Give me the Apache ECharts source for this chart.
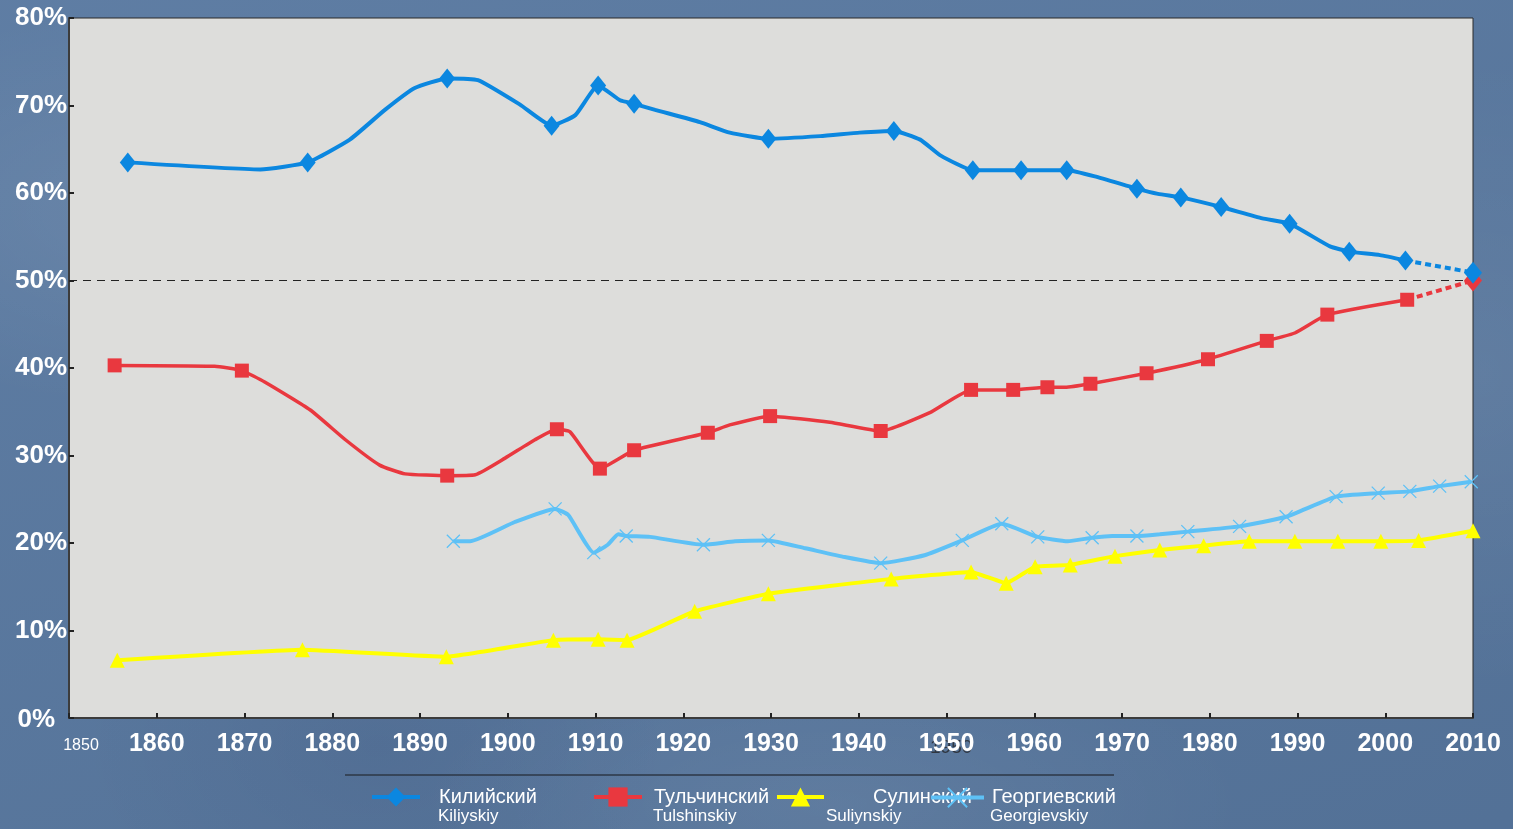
<!DOCTYPE html>
<html><head><meta charset="utf-8">
<script src="https://cdn.jsdelivr.net/npm/echarts@6/dist/echarts.min.js"></script>
<style>
html,body{margin:0;padding:0;width:1513px;height:829px;overflow:hidden;}
body{
  background-color:#5878a0;
  background-image:
    radial-gradient(ellipse 320px 200px at 8% 25%, rgba(255,255,255,0.07), rgba(255,255,255,0)),
    radial-gradient(ellipse 420px 160px at 55% 97%, rgba(255,255,255,0.06), rgba(255,255,255,0)),
    radial-gradient(ellipse 260px 320px at 98% 45%, rgba(255,255,255,0.06), rgba(255,255,255,0)),
    radial-gradient(ellipse 300px 200px at 25% 90%, rgba(0,0,40,0.06), rgba(0,0,0,0)),
    linear-gradient(160deg, rgba(255,255,255,0.04), rgba(0,0,0,0.06));
}
#c{width:1513px;height:829px;}
</style></head><body><div id="c"></div>
<script>
// ---- names ----
const namesRu  = ['Килийский', 'Тульчинский', 'Сулинский', 'Георгиевский'];
const namesLat = ['Kiliyskiy', 'Tulshinskiy', 'Suliynskiy', 'Georgievskiy'];

// ---- Килийский (Kiliyskiy) ----
const kiliYears  = [1856.7, 1871.8, 1877.2, 1882.0, 1886.0, 1889.4, 1893.1, 1896.6, 1901.4, 1905.0, 1907.7, 1910.3, 1912.8, 1914.4, 1916.8, 1921.9, 1925.3, 1929.7, 1935.6, 1940.1, 1944.0, 1947.0, 1949.3, 1953.0, 1958.5, 1963.7, 1966.9, 1971.7, 1974.1, 1976.7, 1981.3, 1986.0, 1989.1, 1993.7, 1995.9, 1999.4, 2002.3];
const kiliValues = [63.5, 62.7, 63.5, 66.1, 69.5, 72.0, 73.1, 72.9, 70.1, 67.7, 68.9, 72.3, 70.6, 70.2, 69.5, 68.1, 66.9, 66.2, 66.5, 66.9, 67.1, 66.1, 64.3, 62.6, 62.6, 62.6, 61.9, 60.5, 59.9, 59.5, 58.4, 57.1, 56.5, 53.9, 53.3, 52.9, 52.3];
const kiliMarks  = [1856.7, 1877.2, 1893.1, 1905.0, 1910.3, 1914.4, 1929.7, 1944.0, 1953.0, 1958.5, 1963.7, 1971.7, 1976.7, 1981.3, 1989.1, 1995.9, 2002.3];
const kiliProjYears  = [2002.3, 2010];
const kiliProjValues = [52.3, 50.9];

// ---- Тульчинский (Tulshinskiy) ----
const tulYears  = [1855.2, 1866.6, 1869.7, 1872.3, 1877.5, 1881.5, 1885.4, 1888.3, 1893.1, 1896.3, 1899.7, 1903.1, 1905.6, 1907.1, 1910.5, 1914.4, 1922.8, 1925.3, 1929.9, 1936.7, 1942.5, 1948.1, 1952.8, 1957.6, 1961.5, 1963.5, 1966.4, 1972.8, 1979.8, 1986.5, 1989.7, 1993.4, 2002.5];
const tulValues = [40.3, 40.2, 39.7, 38.4, 35.2, 31.8, 28.9, 27.9, 27.7, 27.8, 29.7, 31.8, 33.0, 32.7, 28.5, 30.6, 32.6, 33.5, 34.5, 33.8, 32.8, 34.9, 37.5, 37.5, 37.8, 37.8, 38.2, 39.4, 41.0, 43.1, 44.0, 46.1, 47.8];
const tulMarks  = [1855.2, 1869.7, 1893.1, 1905.6, 1910.5, 1914.4, 1922.8, 1929.9, 1942.5, 1952.8, 1957.6, 1961.5, 1966.4, 1972.8, 1979.8, 1986.5, 1993.4, 2002.5];
const tulProjYears  = [2002.5, 2010];
const tulProjValues = [47.8, 50.0];

// ---- Сулинский (Suliynskiy) ----
const sulYears  = [1855.5, 1876.6, 1893.0, 1905.2, 1910.3, 1913.6, 1921.3, 1929.7, 1943.7, 1952.8, 1956.8, 1960.1, 1964.1, 1969.2, 1974.3, 1979.3, 1984.5, 1989.7, 1994.6, 1999.5, 2003.8, 2010.0];
const sulValues = [6.6, 7.8, 7.0, 8.9, 9.0, 8.9, 12.2, 14.2, 15.9, 16.7, 15.4, 17.3, 17.5, 18.5, 19.2, 19.7, 20.2, 20.2, 20.2, 20.2, 20.3, 21.4];
const sulMarks  = sulYears.slice();

// ---- Георгиевский (Georgievskiy) ----
const geoYears  = [1893.8, 1895.7, 1900.8, 1905.4, 1906.9, 1909.8, 1911.4, 1912.6, 1913.5, 1916.2, 1922.3, 1925.9, 1929.7, 1933.9, 1938.4, 1942.5, 1947.5, 1951.8, 1956.3, 1960.4, 1963.8, 1966.6, 1968.9, 1971.7, 1974.3, 1977.5, 1983.4, 1988.7, 1994.4, 1999.2, 2002.8, 2006.2, 2009.8];
const geoValues = [20.2, 20.2, 22.4, 23.9, 23.2, 18.9, 19.8, 21.0, 20.8, 20.7, 19.8, 20.2, 20.3, 19.4, 18.4, 17.7, 18.6, 20.3, 22.2, 20.7, 20.2, 20.6, 20.8, 20.8, 21.0, 21.3, 21.9, 23.0, 25.3, 25.7, 25.9, 26.5, 27.0];
const geoMarks  = [1893.8, 1905.4, 1909.8, 1913.5, 1922.3, 1929.7, 1942.5, 1951.8, 1956.3, 1960.4, 1966.6, 1971.7, 1977.5, 1983.4, 1988.7, 1994.4, 1999.2, 2002.8, 2006.2, 2009.8];

// ---- axes ----
const xMin = 1850, xMax = 2010, xStep = 10;
const yMin = 0, yMax = 80, yStep = 10;
const refLine = 50;

const C_BLUE = '#0b87e0', C_RED = '#e9383f', C_YEL = '#ffff00', C_LBL = '#5ec1f6';
const FONT = '"Liberation Sans", Arial, sans-serif';

function build(years, values, marks) {
  return years.map((y, i) => {
    const item = { value: [y, values[i]] };
    if (marks.indexOf(y) < 0) item.symbol = 'none';
    return item;
  });
}
function projData(years, values) {
  return years.map((y, i) => i === 0 ? { value: [y, values[i]], symbol: 'none' } : { value: [y, values[i]] });
}

const chart = echarts.init(document.getElementById('c'));

function legendCfg(idx, left, padA, itemWidth) {
  return {
    left: left, top: 787, padding: 0, itemWidth: itemWidth, itemHeight: 24,
    data: [namesRu[idx]],
    selectedMode: false,
    lineStyle: { width: 4 },
    formatter: function () { return '{a|' + namesRu[idx] + '}'; },
    textStyle: {
      color: '#fff', fontFamily: FONT, fontSize: 20,
      rich: { a: { color: '#fff', fontSize: 20, fontFamily: FONT, padding: [0, 0, 0, padA] } }
    }
  };
}
function latinText(idx, left) {
  return { type: 'text', silent: true, left: left, top: 808,
    style: { text: namesLat[idx], fill: '#fff', font: '17px ' + FONT } };
}

const X_SYMBOL = 'path://M0,0L10,10M10,0L0,10';

chart.setOption({
  backgroundColor: 'transparent',
  animation: false,
  grid: {
    left: 69, top: 18, right: 40, bottom: 111,
    show: true, backgroundColor: '#dddddb', borderColor: '#2a2a2a', borderWidth: 1
  },
  xAxis: {
    type: 'value', min: xMin, max: xMax, interval: xStep,
    splitLine: { show: false },
    axisLine: { show: true, lineStyle: { color: '#3c3c3c', width: 2 } },
    axisTick: { show: true, inside: true, length: 5, lineStyle: { color: '#222', width: 2 } },
    axisLabel: {
      margin: 14, color: '#fff', fontFamily: FONT, fontSize: 25, fontWeight: 'bold',
      formatter: function (v) { return v === xMin ? '{s|' + v + '}' : String(v); },
      rich: { s: { fontSize: 16, fontWeight: 'normal', color: '#fff', fontFamily: FONT, padding: [6, 0, 0, 24] } }
    }
  },
  yAxis: {
    type: 'value', min: yMin, max: yMax, interval: yStep,
    splitLine: { show: false },
    axisLine: { show: true, lineStyle: { color: '#3c3c3c', width: 2 } },
    axisTick: { show: true, inside: true, length: 5, lineStyle: { color: '#222', width: 2 } },
    axisLabel: {
      margin: 2, color: '#fff', fontFamily: FONT, fontSize: 26, fontWeight: 'bold',
      formatter: function (v) { return v === 0 ? '{z|0%}' : v + '%'; },
      rich: { z: { fontSize: 26, fontWeight: 'bold', color: '#fff', fontFamily: FONT, padding: [4, 12, 0, 0] } }
    }
  },
  legend: [
    legendCfg(0, 370, 14, 48),
    legendCfg(1, 592, 7, 48),
    legendCfg(2, 775, 44, 47),
    legendCfg(3, 929, 3, 53)
  ],
  graphic: [
    { type: 'text', silent: true, z: -1, left: 930, top: 738,
      style: { text: '1950', fill: '#2f3640', font: '19px ' + FONT } },
    { type: 'line', silent: true,
      shape: { x1: 345, y1: 775, x2: 1114, y2: 775 },
      style: { stroke: '#2c3746', lineWidth: 1.5 } },
    latinText(0, 438),
    latinText(1, 653),
    latinText(2, 826),
    latinText(3, 990)
  ],
  series: [
    { name: namesRu[0], type: 'line', z: 5, smooth: 0.15,
      symbol: 'diamond', symbolSize: [16, 20],
      lineStyle: { color: C_BLUE, width: 4 }, itemStyle: { color: C_BLUE },
      data: build(kiliYears, kiliValues, kiliMarks),
      markLine: { silent: true, symbol: 'none', label: { show: false }, z: 1,
        lineStyle: { color: '#222', type: [8, 6], width: 1 },
        data: [{ yAxis: refLine }] }
    },
    { name: namesRu[1], type: 'line', z: 4, smooth: 0.15,
      symbol: 'rect', symbolSize: 14,
      lineStyle: { color: C_RED, width: 3.5 }, itemStyle: { color: C_RED },
      data: build(tulYears, tulValues, tulMarks) },
    { name: namesRu[2], type: 'line', z: 3, smooth: 0.1,
      symbol: 'triangle', symbolSize: [15, 15],
      lineStyle: { color: C_YEL, width: 4 }, itemStyle: { color: C_YEL },
      data: build(sulYears, sulValues, sulMarks) },
    { name: namesRu[3], type: 'line', z: 3, smooth: 0.15,
      symbol: X_SYMBOL, symbolSize: 13,
      lineStyle: { color: C_LBL, width: 4 },
      itemStyle: { color: 'rgba(0,0,0,0)', borderColor: C_LBL, borderWidth: 1.3 },
      data: build(geoYears, geoValues, geoMarks) },
    { name: 'kiliProj', type: 'line', z: 5,
      symbol: 'diamond', symbolSize: [18, 22], showSymbol: true,
      lineStyle: { color: C_BLUE, width: 4, type: [6, 4] }, itemStyle: { color: C_BLUE },
      data: projData(kiliProjYears, kiliProjValues) },
    { name: 'tulProj', type: 'line', z: 4,
      symbol: 'diamond', symbolSize: [18, 22], showSymbol: true,
      lineStyle: { color: C_RED, width: 4, type: [6, 4] }, itemStyle: { color: C_RED },
      data: projData(tulProjYears, tulProjValues) }
  ]
});
</script>
</body></html>
